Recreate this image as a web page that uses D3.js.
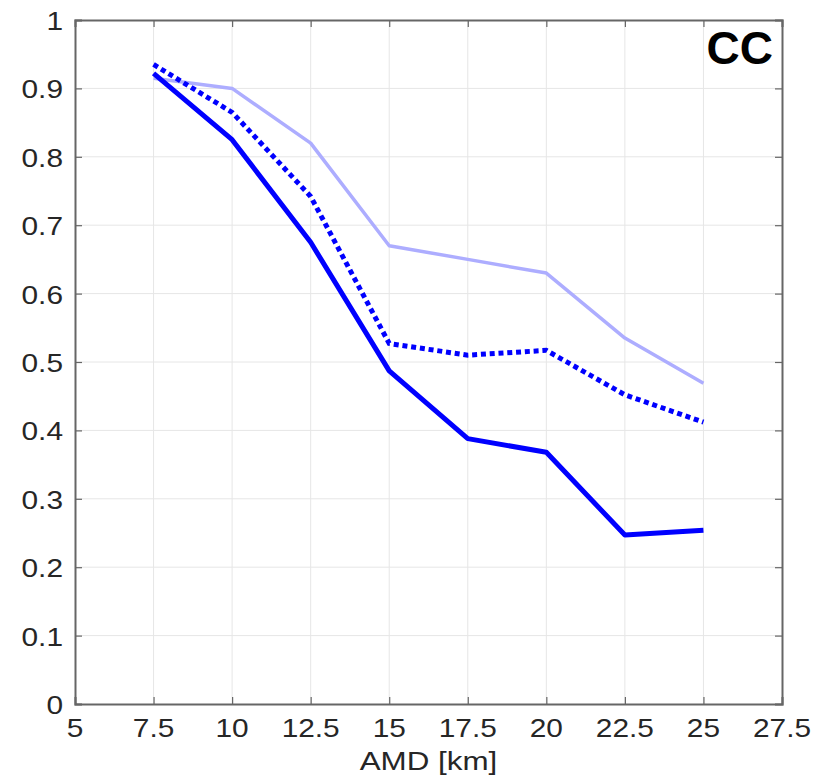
<!DOCTYPE html>
<html><head><meta charset="utf-8">
<script src="https://cdn.jsdelivr.net/npm/d3@7/dist/d3.min.js"></script>
<style>body{margin:0;background:#fff}svg{display:block}</style>
</head><body>
<svg id="c" width="819" height="779"></svg>
<script>
const amd = [7.5, 10, 12.5, 15, 17.5, 20, 22.5, 25];
const solidSeries = [0.922, 0.825, 0.675, 0.487, 0.388, 0.368, 0.247, 0.254];
const dottedSeries = [0.935, 0.865, 0.742, 0.527, 0.510, 0.517, 0.452, 0.412];
const lightSeries = [0.915, 0.900, 0.820, 0.670, 0.650, 0.630, 0.535, 0.469];
const xTicks = [5, 7.5, 10, 12.5, 15, 17.5, 20, 22.5, 25, 27.5];
const yTicks = [0, 0.1, 0.2, 0.3, 0.4, 0.5, 0.6, 0.7, 0.8, 0.9, 1];
const xLabel = "AMD [km]";
const panelLabel = "CC";

const svg = d3.select("#c");
const L = 75, R = 782, T = 20, B = 704;
const x = d3.scaleLinear().domain([5, 27.5]).range([L, R]);
const y = d3.scaleLinear().domain([0, 1]).range([B, T]);
const font = "'Liberation Sans', Arial, Helvetica, sans-serif";
const textCol = "#262626";
const SX = 1.17;

// grid
const g = svg.append("g");
g.selectAll(".gx").data(xTicks.slice(1, -1)).enter().append("line")
  .attr("x1", d => x(d)).attr("x2", d => x(d)).attr("y1", T).attr("y2", B)
  .attr("stroke", "#e6e6e6").attr("stroke-width", 1);
g.selectAll(".gy").data(yTicks.slice(1, -1)).enter().append("line")
  .attr("y1", d => y(d)).attr("y2", d => y(d)).attr("x1", L).attr("x2", R)
  .attr("stroke", "#e6e6e6").attr("stroke-width", 1);

// axes with inward ticks
const axCol = "#666666";
const xAxisB = d3.axisTop(x).tickValues(xTicks).tickSize(7).tickFormat("");
const xAxisT = d3.axisBottom(x).tickValues(xTicks).tickSize(7).tickFormat("");
const yAxisL = d3.axisRight(y).tickValues(yTicks).tickSize(7).tickFormat("");
const yAxisR = d3.axisLeft(y).tickValues(yTicks).tickSize(7).tickFormat("");
[[xAxisB, `translate(0,${B})`], [xAxisT, `translate(0,${T})`], [yAxisL, `translate(${L},0)`], [yAxisR, `translate(${R},0)`]].forEach(([a, tr]) => {
  const ga = svg.append("g").attr("transform", tr).call(a);
  ga.selectAll("path").attr("stroke", axCol).attr("stroke-width", 2);
  ga.selectAll("line").attr("stroke", axCol).attr("stroke-width", 1.2);
});

// tick labels (horizontally stretched like the source)
svg.selectAll(".xl").data(xTicks).enter().append("text")
  .attr("transform", d => `translate(${x(d)},${B + 33}) scale(${SX},1)`)
  .attr("text-anchor", "middle")
  .attr("font-family", font).attr("font-size", 25.5).attr("fill", textCol)
  .text(d => d3.format("")(d));
svg.selectAll(".yl").data(yTicks).enter().append("text")
  .attr("transform", d => `translate(${L - 12},${y(d) + 10}) scale(${SX},1)`)
  .attr("text-anchor", "end")
  .attr("font-family", font).attr("font-size", 25.5).attr("fill", textCol)
  .text(d => d3.format("")(d));

svg.append("text").attr("transform", `translate(${(L + R) / 2},770) scale(${SX + 0.06},1)`)
  .attr("text-anchor", "middle")
  .attr("font-family", font).attr("font-size", 25.5).attr("fill", textCol).text(xLabel);

// lines
const line = d3.line().x((d, i) => x(amd[i])).y(d => y(d));
svg.append("path").datum(lightSeries).attr("d", line).attr("fill", "none")
  .attr("stroke", "#adadff").attr("stroke-width", 3.5).attr("stroke-linejoin", "round");
svg.append("path").datum(dottedSeries).attr("d", line).attr("fill", "none")
  .attr("stroke", "#0000ff").attr("stroke-width", 5).attr("stroke-dasharray", "5,3.8");
svg.append("path").datum(solidSeries).attr("d", line).attr("fill", "none")
  .attr("stroke", "#0000ff").attr("stroke-width", 5).attr("stroke-linejoin", "round");

svg.append("text").attr("x", 773).attr("y", 64).attr("text-anchor", "end")
  .attr("font-family", font).attr("font-weight", "bold").attr("font-size", 46)
  .attr("fill", "#000").text(panelLabel);
</script>
</body></html>
